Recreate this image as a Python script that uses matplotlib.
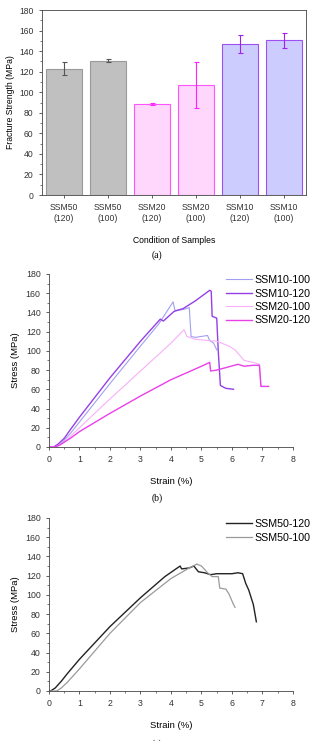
#!/usr/bin/env python3

import matplotlib.pyplot as plt
from matplotlib.ticker import MultipleLocator

plt.rcParams['font.family'] = ['Liberation Sans', 'DejaVu Sans']
plt.rcParams['axes.edgecolor'] = '#444444'
plt.rcParams['xtick.color'] = '#444444'
plt.rcParams['ytick.color'] = '#444444'
plt.rcParams['xtick.labelcolor'] = '#333333'
plt.rcParams['ytick.labelcolor'] = '#333333'

# (a) fracture strength
conditions = ['SSM50\n(120)', 'SSM50\n(100)', 'SSM20\n(120)', 'SSM20\n(100)', 'SSM10\n(120)', 'SSM10\n(100)']
strength = [123, 130.5, 89, 107, 147, 150.5]
strength_err = [6, 1.5, 1, 22, 9, 7.5]

# (b) stress-strain, SSM10 / SSM20
ssm10_100_x = [0.0, 0.2, 0.35, 0.5, 0.7, 1.0, 2.0, 3.0, 3.6, 4.07, 4.13, 4.4, 4.6, 4.66, 4.8, 5.2, 5.25, 5.3, 5.4, 5.5]
ssm10_100_y = [0.0, 0.0, 2, 7, 14, 26, 66, 105, 128, 151, 142, 143, 145, 115, 114, 116, 112, 110, 108, 101]
ssm10_120_x = [0.0, 0.15, 0.3, 0.5, 0.7, 1.0, 2.0, 3.0, 3.65, 3.75, 4.1, 4.4, 4.8, 5.1, 5.27, 5.32, 5.35, 5.5, 5.55, 5.62, 5.8, 6.05]
ssm10_120_y = [0.0, 0.0, 3, 9, 18, 31, 72, 110, 133, 131, 141, 144, 152, 159, 163, 162, 136, 134, 100, 64, 61, 60]
ssm20_100_x = [0.0, 0.2, 0.35, 0.5, 0.7, 1.0, 2.0, 3.0, 4.0, 4.43, 4.52, 4.8, 5.5, 5.9, 6.1, 6.4, 6.7, 6.9, 6.95, 7.2]
ssm20_100_y = [0.0, 0.0, 2, 5, 11, 20, 50, 79, 108, 122, 115, 112, 110, 105, 101, 90, 88, 86, 63, 63]
ssm20_120_x = [0.0, 0.2, 0.35, 0.5, 0.7, 1.0, 2.0, 3.0, 4.0, 5.0, 5.27, 5.3, 5.5, 6.2, 6.4, 6.7, 6.9, 6.95, 7.2]
ssm20_120_y = [0.0, 0.0, 2, 5, 9, 16, 35, 53, 70, 84, 88, 79, 80, 86, 84, 85, 85, 63, 63]

# (c) stress-strain, SSM50
ssm50_120_x = [0.0, 0.05, 0.2, 0.4, 0.6, 1.0, 2.0, 3.0, 3.8, 4.3, 4.35, 4.6, 4.75, 4.9, 5.1, 5.3, 5.5, 6.0, 6.2, 6.35, 6.45, 6.55, 6.7, 6.8]
ssm50_120_y = [0.0, 0.0, 3, 10, 18, 33, 67, 97, 119, 130, 127, 128, 130, 124, 123, 121, 122, 122, 123, 122, 112, 105, 90, 72]
ssm50_100_x = [0.0, 0.25, 0.4, 0.6, 0.8, 1.0, 2.0, 3.0, 4.0, 4.6, 4.85, 5.0, 5.2, 5.35, 5.55, 5.6, 5.8, 5.9, 6.05, 6.1]
ssm50_100_y = [0.0, 0.0, 3, 9, 16, 23, 60, 92, 117, 128, 132, 130, 123, 119, 119, 107, 106, 101, 90, 87]

fig = plt.figure(figsize=(3.14, 7.41), dpi=100)

# ---- (a)
ax = fig.add_axes([0.134, 0.7368, 0.841, 0.2497])
pos = list(range(1, 7))
fills = ['#c0c0c0', '#c0c0c0', '#ffd6fc', '#ffd6fc', '#ccccff', '#ccccff']
edges = ['#9a9a9a', '#9a9a9a', '#ff55ff', '#ff55ff', '#a050f0', '#a050f0']
errc = ['#555555', '#555555', '#ff22ff', '#ff22ff', '#a020f0', '#a020f0']
ax.bar(pos, strength, width=0.82, color=fills, edgecolor=edges, linewidth=0.8)
for p, s, e, c in zip(pos, strength, strength_err, errc):
    ax.errorbar(p, s, yerr=e, color=c, capsize=1.8, elinewidth=0.8, capthick=0.8)
ax.set_xlim(0.5, 6.5)
ax.set_ylim(0, 180)
ax.set_xticks(pos)
ax.set_xticklabels(conditions, fontsize=6.2, linespacing=1.3)
ax.yaxis.set_major_locator(MultipleLocator(20))
ax.yaxis.set_minor_locator(MultipleLocator(10))
ax.tick_params(axis='y', labelsize=6.2)
ax.tick_params(width=0.6, length=2.5, direction='out')
ax.tick_params(which='minor', length=1.5, width=0.5)
ax.set_ylabel('Fracture Strength (MPa)', fontsize=6.2, labelpad=3)
ax.set_xlabel('Condition of Samples', fontsize=6.2, labelpad=9)
for sp in ax.spines.values():
    sp.set_linewidth(0.6)
fig.text(0.5, 1 - 255 / 741, '(a)', ha='center', va='center', fontsize=7, family='Liberation Serif')


def stress_axes(ax):
    ax.set_xlim(0, 8)
    ax.set_ylim(0, 180)
    ax.xaxis.set_major_locator(MultipleLocator(1))
    ax.xaxis.set_minor_locator(MultipleLocator(0.5))
    ax.yaxis.set_major_locator(MultipleLocator(20))
    ax.yaxis.set_minor_locator(MultipleLocator(10))
    ax.spines['top'].set_visible(False)
    ax.spines['right'].set_visible(False)
    for sp in ax.spines.values():
        sp.set_linewidth(0.6)
    ax.tick_params(labelsize=6.3, width=0.6, length=2.5, direction='out')
    ax.tick_params(which='minor', length=1.5, width=0.5)
    ax.set_xlabel('Strain (%)', fontsize=6.8, labelpad=9)
    ax.set_ylabel('Stress (MPa)', fontsize=6.8, labelpad=4)
    ax.legend(loc='upper right', bbox_to_anchor=(1.1, 1.03), frameon=False, fontsize=7.7,
              handlelength=2.4, handletextpad=0.3, labelspacing=0.32, borderaxespad=0.2)


# ---- (b)
ax = fig.add_axes([0.156, 0.3968, 0.777, 0.2335])
ax.plot(ssm10_100_x, ssm10_100_y, color='#a0a0f2', lw=0.8, label='SSM10-100')
ax.plot(ssm10_120_x, ssm10_120_y, color='#9540e6', lw=1.0, label='SSM10-120')
ax.plot(ssm20_100_x, ssm20_100_y, color='#f7b0f7', lw=0.8, label='SSM20-100')
ax.plot(ssm20_120_x, ssm20_120_y, color='#ea40ea', lw=1.0, label='SSM20-120')
stress_axes(ax)
fig.text(0.5, 1 - 498 / 741, '(b)', ha='center', va='center', fontsize=7, family='Liberation Serif')

# ---- (c)
ax = fig.add_axes([0.156, 0.0675, 0.777, 0.2335])
ax.plot(ssm50_120_x, ssm50_120_y, color='#222222', lw=1.0, label='SSM50-120')
ax.plot(ssm50_100_x, ssm50_100_y, color='#9a9a9a', lw=0.9, label='SSM50-100')
stress_axes(ax)
fig.text(0.5, 1 - 739 / 741, '(c)', ha='center', va='top', fontsize=7, family='Liberation Serif')

plt.savefig('out.png', dpi=100)
